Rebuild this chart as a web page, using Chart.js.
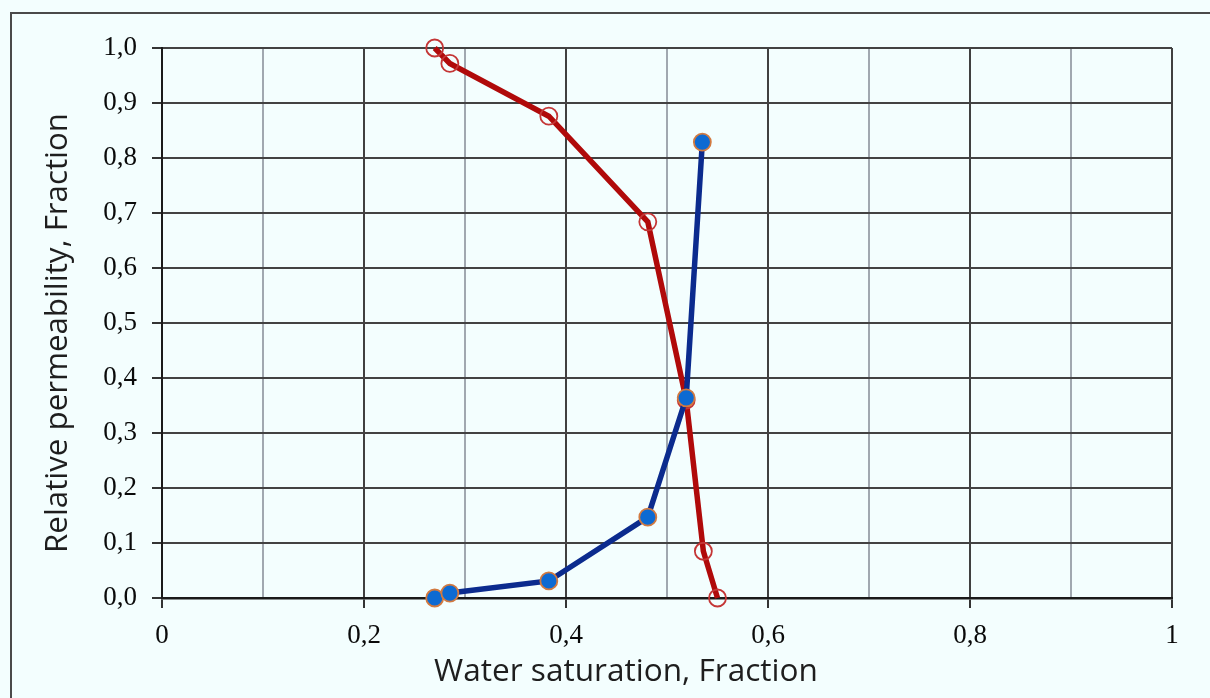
<!DOCTYPE html>
<html>
<head>
<meta charset="utf-8">
<script src="https://cdn.jsdelivr.net/npm/chart.js@4/dist/chart.umd.min.js"></script>
<style>
  body { margin: 0; background: #f3fefe; overflow: hidden; }
  #frame {
    position: absolute; left: 10px; top: 12px; width: 1300px; height: 800px;
    border-left: 2px solid #4a4a4a; border-top: 2px solid #4a4a4a;
  }
  #chart { position: absolute; left: 0; top: 0; }
</style>
</head>
<body>
<div id="frame"></div>
<canvas id="chart" width="1210" height="698"></canvas>
<script>
// water saturation and relative permeabilities
const swOil = [0.27, 0.285, 0.383, 0.481, 0.519, 0.536, 0.55];
const kro = [1.0, 0.972, 0.876, 0.684, 0.36, 0.085, 0.0];
const swWater = [0.27, 0.285, 0.383, 0.481, 0.519, 0.535];
const krw = [0.0, 0.009, 0.031, 0.147, 0.364, 0.829];

const xTitle = 'Water saturation, Fraction';
const yTitle = 'Relative permeability, Fraction';

function toPoints(xs, ys) {
    return xs.map((x, i) => ({ x: x, y: ys[i] }));
}

function commaNum(v, digits) {
    return v.toFixed(digits).replace('.', ',');
}

// axis titles placed like the original (centred on the whole frame, not the plot)
const axisTitles = {
    id: 'axisTitles',
    afterDraw(chart) {
        const ctx = chart.ctx;
        function fitText(text, width) {
            ctx.font = '28px "Open Sans"';
            const w = ctx.measureText(text).width;
            const size = 28 * width / w;
            ctx.font = size.toFixed(2) + 'px "Open Sans"';
        }
        ctx.save();
        ctx.fillStyle = '#1e1e1e';
        ctx.textAlign = 'center';
        ctx.textBaseline = 'middle';
        fitText(xTitle, 384);
        ctx.fillText(xTitle, 626, 672);
        ctx.translate(58, 333);
        ctx.rotate(-Math.PI / 2);
        fitText(yTitle, 440);
        ctx.fillText(yTitle, 0, 0);
        ctx.restore();
    }
};

new Chart(document.getElementById('chart').getContext('2d'), {
    type: 'scatter',
    data: {
        datasets: [
            {
                label: 'Krw',
                data: toPoints(swWater, krw),
                showLine: true,
                borderColor: '#0b2b8e',
                borderWidth: 5.5,
                pointRadius: 8.5,
                pointBackgroundColor: '#0d6ad2',
                pointBorderColor: '#d27a40',
                pointBorderWidth: 1.8,
                clip: false
            },
            {
                label: 'Kro',
                data: toPoints(swOil, kro),
                showLine: true,
                borderColor: '#b00a0a',
                borderWidth: 5.5,
                pointRadius: 8.5,
                pointBackgroundColor: 'rgba(0,0,0,0)',
                pointBorderColor: '#c43636',
                pointBorderWidth: 1.8,
                clip: false
            }
        ]
    },
    options: {
        responsive: false,
        animation: false,
        layout: { padding: { top: 48, right: 38, left: 0, bottom: 0 } },
        plugins: {
            legend: { display: false },
            tooltip: { enabled: false }
        },
        scales: {
            x: {
                type: 'linear',
                min: 0,
                max: 1,
                afterFit: function (scale) { scale.height = 100; },
                border: { color: '#1a1a1a', width: 2.5 },
                grid: {
                    lineWidth: 2,
                    tickLength: 10,
                    color: function (c) {
                        return Math.round(c.tick.value * 10) % 2 === 0 ? '#404040' : '#a0a8b0';
                    },
                    tickColor: function (c) {
                        return Math.round(c.tick.value * 10) % 2 === 0 ? '#333333' : 'rgba(0,0,0,0)';
                    }
                },
                ticks: {
                    stepSize: 0.1,
                    padding: 12,
                    color: '#0a0a0a',
                    font: { family: '"Liberation Serif"', size: 27 },
                    maxRotation: 0,
                    autoSkip: false,
                    callback: function (value) {
                        const k = Math.round(value * 10);
                        if (k % 2 !== 0) return '';
                        if (k === 0) return '0';
                        if (k === 10) return '1';
                        return commaNum(value, 1);
                    }
                }
            },
            y: {
                type: 'linear',
                min: 0,
                max: 1,
                afterFit: function (scale) { scale.width = 162; },
                border: { color: '#1a1a1a', width: 2 },
                grid: {
                    lineWidth: 2,
                    tickLength: 10,
                    color: '#424242',
                    tickColor: '#333333'
                },
                ticks: {
                    stepSize: 0.1,
                    padding: 15,
                    color: '#0a0a0a',
                    font: { family: '"Liberation Serif"', size: 27 },
                    callback: function (value) { return commaNum(value, 1); }
                }
            }
        }
    },
    plugins: [axisTitles]
});
</script>
</body>
</html>
